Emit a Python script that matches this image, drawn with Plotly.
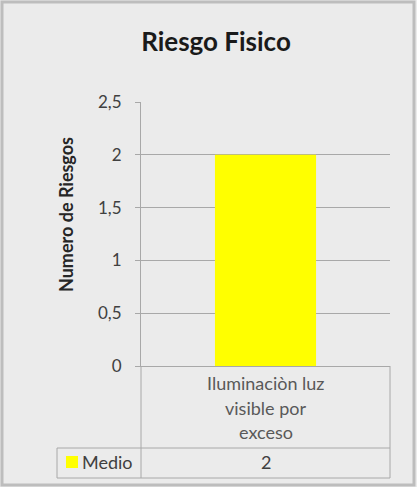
import plotly.graph_objects as go

# ---- data ----
categories = ["Iluminaciòn luz visible por exceso"]
category_lines = [["Iluminaciòn luz", "visible por", "exceso"]]
series_name = "Medio"
values = [2]
y_ticks = [0, 0.5, 1, 1.5, 2, 2.5]
y_tick_labels = ["0", "0,5", "1", "1,5", "2", "2,5"]
title_text = "Riesgo Fisico"
y_title = "Numero de Riesgos"

W, H = 417, 487
L, R, T, B = 141, 390, 102, 366  # plot area in pixels


def px_x(p):
    return (p - L) / (R - L)


def px_y(p):
    return (B - p) / (B - T)


FONT = "Lato, 'Open Sans', sans-serif"
GRID = "#a8a8a8"
TXT = "#404040"

fig = go.Figure()
fig.add_trace(go.Bar(
    x=categories, y=values, name=series_name,
    marker=dict(color="#ffff00", line=dict(width=0)),
    width=0.406, showlegend=False,
))

shapes = []
line = dict(color=GRID, width=1)
# outer frame
shapes.append(dict(type="rect", xref="paper", yref="paper",
                   x0=px_x(2), x1=px_x(414), y0=px_y(485), y1=px_y(2),
                   line=dict(color="#bdbdbd", width=3), layer="below"))
# data table lines
shapes.append(dict(type="line", xref="paper", yref="paper",
                   x0=px_x(L), x1=px_x(L), y0=px_y(B), y1=px_y(478), line=line))
shapes.append(dict(type="line", xref="paper", yref="paper",
                   x0=px_x(R), x1=px_x(R), y0=px_y(B), y1=px_y(478), line=line))
shapes.append(dict(type="line", xref="paper", yref="paper",
                   x0=px_x(57), x1=px_x(57), y0=px_y(448), y1=px_y(478), line=line))
shapes.append(dict(type="line", xref="paper", yref="paper",
                   x0=px_x(57), x1=px_x(R), y0=px_y(448), y1=px_y(448), line=line))
shapes.append(dict(type="line", xref="paper", yref="paper",
                   x0=px_x(57), x1=px_x(R), y0=px_y(478), y1=px_y(478), line=line))
# legend key
shapes.append(dict(type="rect", xref="paper", yref="paper",
                   x0=px_x(66), x1=px_x(78), y0=px_y(468), y1=px_y(456),
                   fillcolor="#ffff00", line=dict(width=0)))

annotations = []
line_y = [383, 408, 432]
for cat, lines in zip(categories, category_lines):
    for ln, py in zip(lines, line_y):
        annotations.append(dict(x=cat, xref="x", y=px_y(py), yref="paper",
                                text=ln, showarrow=False,
                                font=dict(family=FONT, size=18, color="#595959"),
                                xanchor="center", yanchor="middle"))
for cat, v in zip(categories, values):
    annotations.append(dict(x=cat, xref="x", y=px_y(462), yref="paper",
                            text=str(v), showarrow=False,
                            font=dict(family=FONT, size=18, color=TXT),
                            xanchor="center", yanchor="middle"))
annotations.append(dict(x=px_x(80), xref="paper", y=px_y(462), yref="paper",
                        text=series_name, showarrow=False,
                        font=dict(family=FONT, size=18, color=TXT),
                        xanchor="left", yanchor="middle"))
annotations.append(dict(x=px_x(66), xref="paper", y=px_y(215), yref="paper",
                        text="<b>" + y_title + "</b>", showarrow=False, textangle=-90,
                        font=dict(family=FONT, size=18, color="#262626"),
                        xanchor="center", yanchor="middle"))

fig.update_layout(
    width=W, height=H,
    margin=dict(l=L, r=W - R, t=T, b=H - B),
    paper_bgcolor="#ebebeb", plot_bgcolor="rgba(0,0,0,0)",
    separators=",.",
    title=dict(text="<b>" + title_text + "</b>", x=216 / W, xref="container",
               y=1 - 42 / H, yref="container", xanchor="center", yanchor="middle",
               font=dict(family=FONT, size=26, color="#1a1a1a")),
    shapes=shapes, annotations=annotations,
    showlegend=False,
    xaxis=dict(showticklabels=False, showgrid=False, zeroline=False,
               showline=True, linecolor=GRID, linewidth=1, ticks="",
               range=[-0.5, 0.5], fixedrange=True),
    yaxis=dict(range=[0, 2.5], tickvals=y_ticks, ticktext=y_tick_labels,
               showgrid=True, gridcolor=GRID, gridwidth=1, zeroline=False,
               showline=True, linecolor=GRID, linewidth=1,
               ticks="outside", ticklen=5, tickcolor=GRID,
               ticklabelstandoff=10,
               tickfont=dict(family=FONT, size=17, color=TXT)),
)

fig.write_html("out.html", config={"displayModeBar": False},
               post_script="document.body.style.margin='0';document.body.style.padding='0';")
